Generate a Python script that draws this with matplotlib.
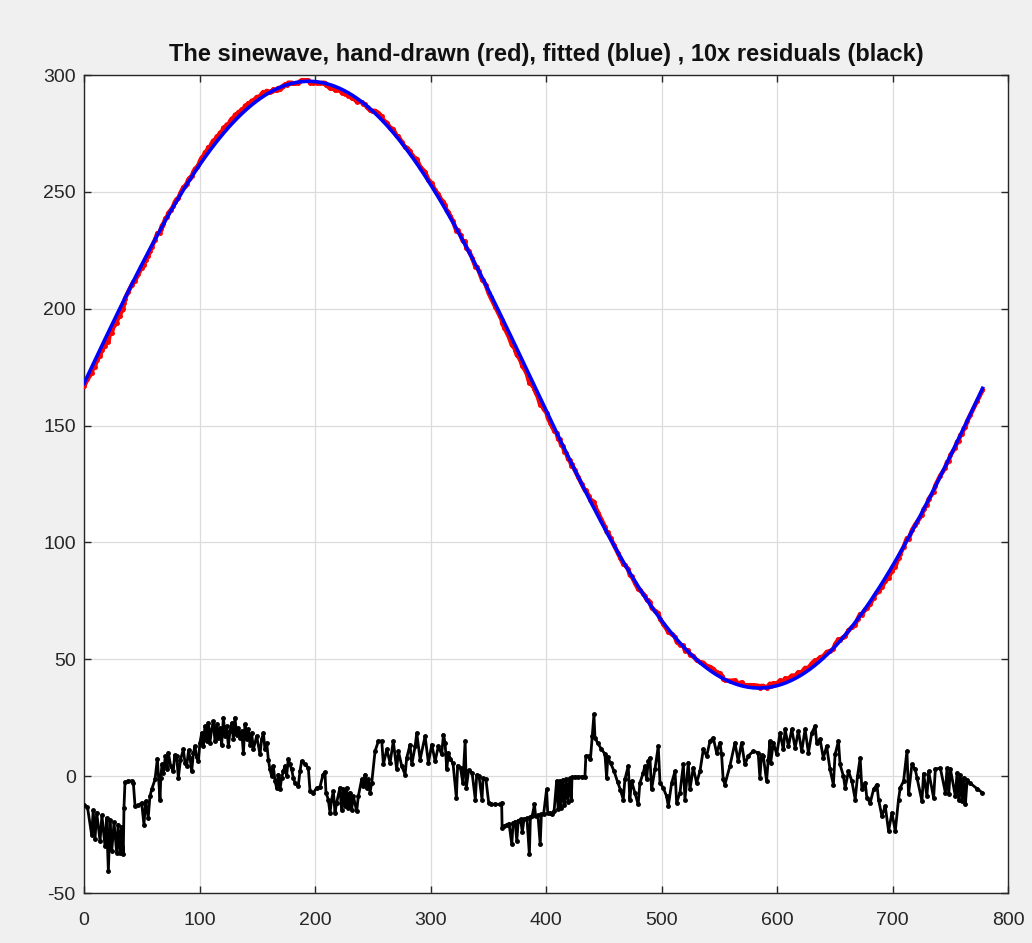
import numpy as np
import matplotlib
matplotlib.use("Agg")
import matplotlib.pyplot as plt

plt.rcParams["axes.unicode_minus"] = False

# ---- data ----
TITLE = "The sinewave, hand-drawn (red), fitted (blue) , 10x residuals (black)"
X_TICKS = [0, 100, 200, 300, 400, 500, 600, 700, 800]
Y_TICKS = [-50, 0, 50, 100, 150, 200, 250, 300]

# fitted sine parameters
FIT_OFFSET = 167.5
FIT_AMP = 129.8
FIT_PERIOD = 780.0
FIT_PEAK_X = 194.5
X_END = 778

# 10x residuals (black), x positions and values
RES_X = [0, 3, 6.6, 8, 9.5, 11, 13.9, 15.5, 18.2, 19.5, 21.1, 22.5, 24, 26, 28.3, 29.5, 31.2, 32.5, 34, 34.6,
         35.5, 38.4, 41.3, 42.7, 44.2, 47, 49.9, 51.9, 53.4, 55.6, 57.1, 58.6, 61.5, 63.5, 65.8, 66.5,
         67.5, 68.7, 70.5, 72, 73, 75, 77.3, 78.5, 80.2, 81.7, 83.5, 86, 87.5, 88.9, 90.5, 91.8, 93.2, 94.8, 96.1, 97.5, 99, 100.4,
         101.9, 103.3, 104.7, 106.2, 107.6, 109, 110.5, 111.9, 113.4, 114.9, 116.3, 117.8, 119.2, 120.7, 122.1, 123.5, 125, 126.4,
         127.9, 129.3, 130.7, 132.2, 133.6, 135, 136.5, 138, 139.4, 140.8, 142.3, 143.7, 145.2, 146.6, 149.5, 152.4, 153.8, 155.3,
         156.7, 158.2,
         159.6, 161, 162.5, 163.9, 165.4, 166.8, 168.2, 169.7, 171.1, 172.6, 174, 175.4, 176.9, 178.3, 179.8, 181.2, 182.7, 185.5,
         187, 188.4, 191.3, 194.2, 195.7, 198.6, 201.5, 204.3, 207, 208.6, 209.5,
         211.5, 213, 214.4, 215.9, 217.3, 218.7, 221.6, 223, 224.5, 225.9, 227.4, 228.8, 230.3, 231.7, 233.2, 236.1, 237.5,
         240.4, 241.9, 243.3, 244.8, 246.2, 247.6, 249.1, 252, 254.9,
         257.8, 259.2, 262.1, 265, 267.8, 270.7, 272.2, 275.1, 278, 279.4, 282.3, 283.8, 286.7, 288.1, 291, 295.3, 298.2, 301.1,
         304, 306.8, 309.7, 311.2, 312.6, 314.1,
         315.5, 317, 319.5, 322.4, 323.5, 326, 328, 330, 331, 333, 336, 338.8, 340, 342, 344.6, 345.5, 348, 350.4, 352, 356, 360,
         361.6, 362,
         364, 366, 368, 370.4, 371.5, 373.3, 374.7, 376, 378, 379.5, 381, 383.5, 385.6, 386.5, 388, 390, 391, 393, 395, 396, 398,
         400.5, 401.5, 403.6,
         405, 407, 409.2, 410.5, 411.8, 413, 414.5, 416, 417.5, 419, 420.5, 422, 422.5, 425, 428, 431, 433.7,
         434.5, 437, 438.5, 440, 441.5, 442.4, 445, 448, 451, 452.5, 453.5, 456, 459, 462, 464.5, 466.9,
         468.3, 471.2, 472.6, 474.1, 477, 479.8, 481.3, 484.2, 485.6, 487.1, 488.5, 490, 491.4, 494.3, 497.2, 498.7, 501.5, 504.4,
         505.9, 508.8, 511.7, 513.1, 516, 518.9, 520.3, 523.2, 524.6, 527.5, 530.4, 533.3, 536.2, 539.1, 542, 544.8, 547.7, 550.6,
         552, 553.4, 554.9, 559.2, 563.6, 566.4, 569.3, 572.2, 575.1, 579.4, 583.7, 585.2, 586.6, 588.1, 591, 592.4, 593.9, 594.5,
         596.9, 599.8, 602.6, 605.5, 607, 609.9, 612.8, 615.7, 618.5, 621.4, 624.3, 627.2, 630.1, 633, 634.4, 637.3,
         640.1, 643, 645.9, 648.8, 650.3, 653.2, 654.6, 657.5, 659, 661.9, 664.8, 667.7, 669.7, 672, 673.5, 676.4, 677.8, 680.7,
         683.6, 686.5, 687.9, 690.8, 693.7, 696.6, 699.5, 702.4, 705.2, 706.7, 709.6, 712.5, 713.9, 716.8, 719.7, 721.2,
         725.5, 726.9, 729.8, 731.3, 735.6, 737.1, 741.4, 745.8, 747.2, 748.7, 750.1, 754.4, 755.9, 757.3, 758.8, 760.2, 761.7,
         763.1, 764.6, 767.5, 773.3, 777.9]
RES_Y = [-12.5, -13.3, -25, -14.7, -27.1, -15.6, -27.8, -16.8, -30, -17.9, -40.7, -18.8, -32.1, -19.8, -32.8, -20.7, -32.8, -21.6, -33.5, -13.5,
         -2.6, -2.1, -2.1, -2.9, -12.8, -12.5, -11.4, -20.7, -10.7, -17.8, -8.6, -5.7, -1.4, 7.4, -10, -0.7,
         5, 1.4, 8.5, 3, 10, 4.5, 2, 9, 8.5, -0.7, 7, 11.4, 5.5, 4.3, 11, 7.8, 2, 10, 12.8, 8, 6.4, 14.3,
         18.5, 12.8, 21.4, 15, 22.8, 14.3, 20, 23.5, 15, 22.1, 16.4, 20.7, 13.5, 25, 17.1, 21.4, 12.8, 19.3,
         22.8, 15.7, 25, 17.8, 20.7, 16.4, 19.3, 10, 22.1, 15.7, 20, 13.5, 18.5, 11.4, 17.1, 9.3, 15.7, 18.5,
         11.4, 14.3,
         7.1, 2.9, 0, 4.3, -2.1, -5, 0.7, -5.7, -0.7, 2.1, 4.3, 0, 7.4, 5, 2.9, -0.7, -2.9, -4.3,
         2.1, 6.4, 5, 3.6, -6.4, -7.1, -5, -4.6, 0.7, 1.7, -7,
         -10, -15.7, -10, -6.4, -15.7, -11.4, -5, -14.3, -5.7, -12.8, -5, -13.5, -7.1, -14.3, -8.6, -15, -8.6,
         -1.4, -4.3, 0.7, -5, -1.4, -7.1, -2.9, 10.7, 15,
         15, 5, 11.4, 5.7, 15, 2.9, 10.7, 4.3, 0.7, 7.8, 13.5, 5, 12.8, 18.5, 7.1, 17.1, 5.7, 13.5,
         6.4, 12.8, 9.3, 17.8, 14.3, 2.9,
         10, 7.5, 5.5, -9.3, 4.5, 3.5, -3, 15, -5, 2.5, 1.5, -10, 0.5, 0, -10, -1, -1.4, -11.4, -12, -12, -12.1,
         -11.4, -22,
         -21.5, -20.7, -20.3, -29.2, -20, -19.5, -27.8, -19, -18.5, -24, -18.3, -18, -33.5, -17.5, -17.2, -12.1, -17, -16.7, -29.2, -16.4, -16,
         -5.7, -15.9, -15.7,
         -16, -15, -2.1, -14, -2, -13.5, -1.5, -12.5, -1.2, -11, -1, -10, -0.5, -0.3, -0.3, -0.2, -0.3,
         8.6, 8.6, 7.4, 17, 26.4, 16.4, 14, 11.5, 9.5, -0.7, 8, 5.5, 2, -2.5, -6, -10,
         -1.4, 4.3, -10, -2.1, -7.1, -12.1, -2.9, 1.4, 4.3, -1.4, 6.4, 7.8, -5.7, 2.9, 12.8, -2.9, -5, -8.6,
         -12.8, -2.9, 2.1, -11.4, -7.1, 5, -10, 5.7, -5.7, 3.6, -2.9, 2.1, 11.4, 8.6, 15, 16.4, 10, 14.3,
         9.3, -1.4, -3.6, 4.3, 14.3, 6.4, 14.3, 5, 8.6, 10.7, 10, -0.7, 9, 8.6, -2.1, 7, 15, 5.7,
         14.3, 9.3, 18.5, 11.4, 20, 12.8, 20, 12.1, 19.3, 10.7, 20, 10, 18.5, 21.4, 14.3, 15.7,
         7.8, 12.8, 2.9, -3.6, 9.3, 15, 5, 0, -5, 2.1, -2.1, -10, 0, 7.8, -5.7, -2.9, -9.3, -11.4,
         -5.7, -3.6, -10, -17.1, -12.8, -23.5, -15.7, -23.5, -10, -5, -2.1, 10.7, -7.8, 5, 2.9, -0.7,
         -10.7, 1.1, -8.6, 2.0, -9.3, 3.0, 3.5, -7.1, 3.3, -7.8, 3.1, -8.6, 1.4, -10, 0.4, -10.7, -0.7,
         -12.1, -1.8, -3.1, -5.4, -7.1]

# ---- derived series ----
res_x = np.array(RES_X, dtype=float)
res_y = np.array(RES_Y, dtype=float)


def fitted(x):
    return FIT_OFFSET + FIT_AMP * np.cos(2 * np.pi * (x - FIT_PEAK_X) / FIT_PERIOD)


x_fit = np.arange(0, X_END + 1, dtype=float)
y_fit = fitted(x_fit)
y_hand = fitted(res_x) + res_y / 10.0

# ---- figure ----
W, H = 1032, 943
fig = plt.figure(figsize=(W / 100, H / 100), dpi=100, facecolor="#f0f0f0")
ax = fig.add_axes([84 / W, 1 - 893 / H, (1008 - 84) / W, (893 - 75) / H])
ax.set_facecolor("white")

ax.plot(res_x, y_hand, color="red", lw=3.2, marker=".", ms=5, zorder=3)
ax.plot(x_fit, y_fit, color="blue", lw=2.6, zorder=4)
ax.plot(res_x, res_y, color="black", lw=2.0, marker=".", ms=5, zorder=5)

ax.set_xlim(0, 800)
ax.set_ylim(-50, 300)
ax.set_xticks(X_TICKS)
ax.set_yticks(Y_TICKS)
ax.grid(True, color="#dcdcdc", lw=0.9)
ax.set_axisbelow(True)
ax.tick_params(direction="in", length=5, width=1, colors="#262626",
               top=True, right=True, labelsize=14)
ax.tick_params(axis="x", pad=13.5)
ax.tick_params(axis="y", pad=6)
for lab in ax.get_xticklabels() + ax.get_yticklabels():
    lab.set_family("Liberation Sans")
for s in ax.spines.values():
    s.set_color("#262626")
    s.set_linewidth(1.0)

ax.set_title(TITLE, fontsize=17, fontweight="bold", family="Liberation Sans",
             color="#111111", pad=10)

fig.savefig("out.png", dpi=100, facecolor=fig.get_facecolor())
